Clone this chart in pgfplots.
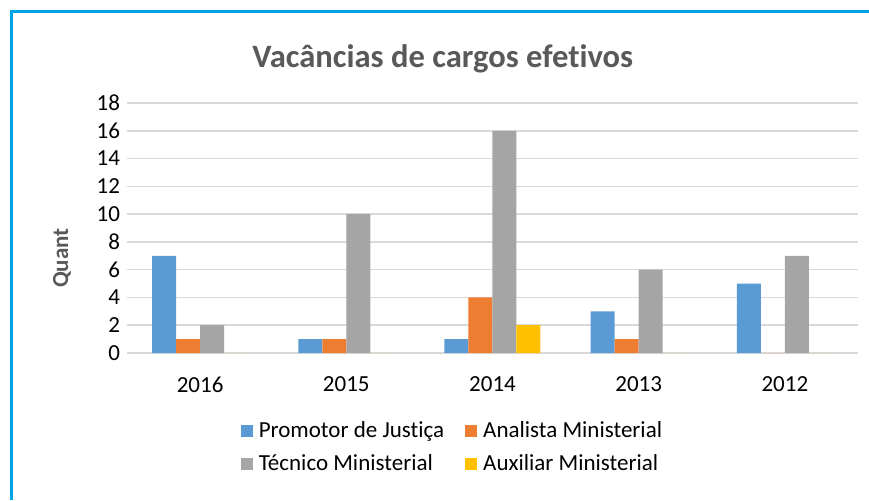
\documentclass[border=0pt]{standalone}
\usepackage{pgfplots}
\pgfplotsset{compat=1.18}
\usepackage{fontspec}
\setmainfont{Carlito}[Ligatures=NoCommon]
\definecolor{cP}{RGB}{91,155,213}
\definecolor{cA}{RGB}{237,125,49}
\definecolor{cT}{RGB}{165,165,165}
\definecolor{cX}{RGB}{255,192,0}
\definecolor{gridc}{RGB}{217,217,217}
\definecolor{titlec}{RGB}{89,89,89}
\definecolor{framec}{RGB}{0,162,232}
\begin{document}
\begin{tikzpicture}
\useasboundingbox (0,0) rectangle (434.5pt,-250pt);
\draw[framec, line width=1.5pt] (5.75pt,-250pt) -- (5.75pt,-5.5pt) -- (434.5pt,-5.5pt);
\begin{axis}[
  at={(63.5pt,-176.5pt)}, anchor=south west,
  scale only axis, width=365.5pt, height=125pt,
  ybar=0pt, bar width=12pt,
  xmin=-0.5, xmax=4.5, ymin=0, ymax=18,
  xtick={0,1,2,3,4}, xticklabels={2016,2015,2014,2013,2012},
  ytick={0,2,...,18},
  tick style={draw=none},
  font=\fontsize{11.5}{13}\selectfont,
  /pgf/number format/assume math mode=true,
  ymajorgrids, grid style={gridc, line width=0.75pt},
  axis x line*=bottom, axis y line*=left,
  x axis line style={gridc, line width=0.75pt, -},
  y axis line style={draw=none},
  xticklabel style={yshift=-4pt},
  yticklabel style={xshift=0pt},
  title={Vacâncias de cargos efetivos},
  title style={at={(rel axis cs:0.432,1)}, anchor=center, yshift=16pt, font=\fontsize{16.3}{18}\selectfont\bfseries, text=titlec},
  ylabel={Quant},
  ylabel style={at={(rel axis cs:0,0.38)}, anchor=center, yshift=32.5pt, font=\fontsize{11.5}{13}\selectfont\bfseries, text=titlec},
  legend columns=2,
  legend cell align=left,
  legend style={at={(rel axis cs:0.4466,0)}, anchor=north, yshift=-30pt, draw=none, fill=none,
    font=\fontsize{11.5}{13}\selectfont,
    /tikz/every even column/.append style={column sep=8.5pt},
    /tikz/every odd column/.append style={column sep=1pt},
    row sep=3pt},
  legend image code/.code={\fill[#1] (-2pt,-3pt) rectangle (4pt,3pt);},
]
\addplot[fill=cP, draw=none] coordinates {(0,7) (1,1) (2,1) (3,3) (4,5)};
\addplot[fill=cA, draw=none] coordinates {(0,1) (1,1) (2,4) (3,1) (4,0)};
\addplot[fill=cT, draw=none] coordinates {(0,2) (1,10) (2,16) (3,6) (4,7)};
\addplot[fill=cX, draw=none] coordinates {(0,0) (1,0) (2,2) (3,0) (4,0)};
\legend{Promotor de Justiça, Analista Ministerial, Técnico Ministerial, Auxiliar Ministerial}
\end{axis}
\end{tikzpicture}
\end{document}
